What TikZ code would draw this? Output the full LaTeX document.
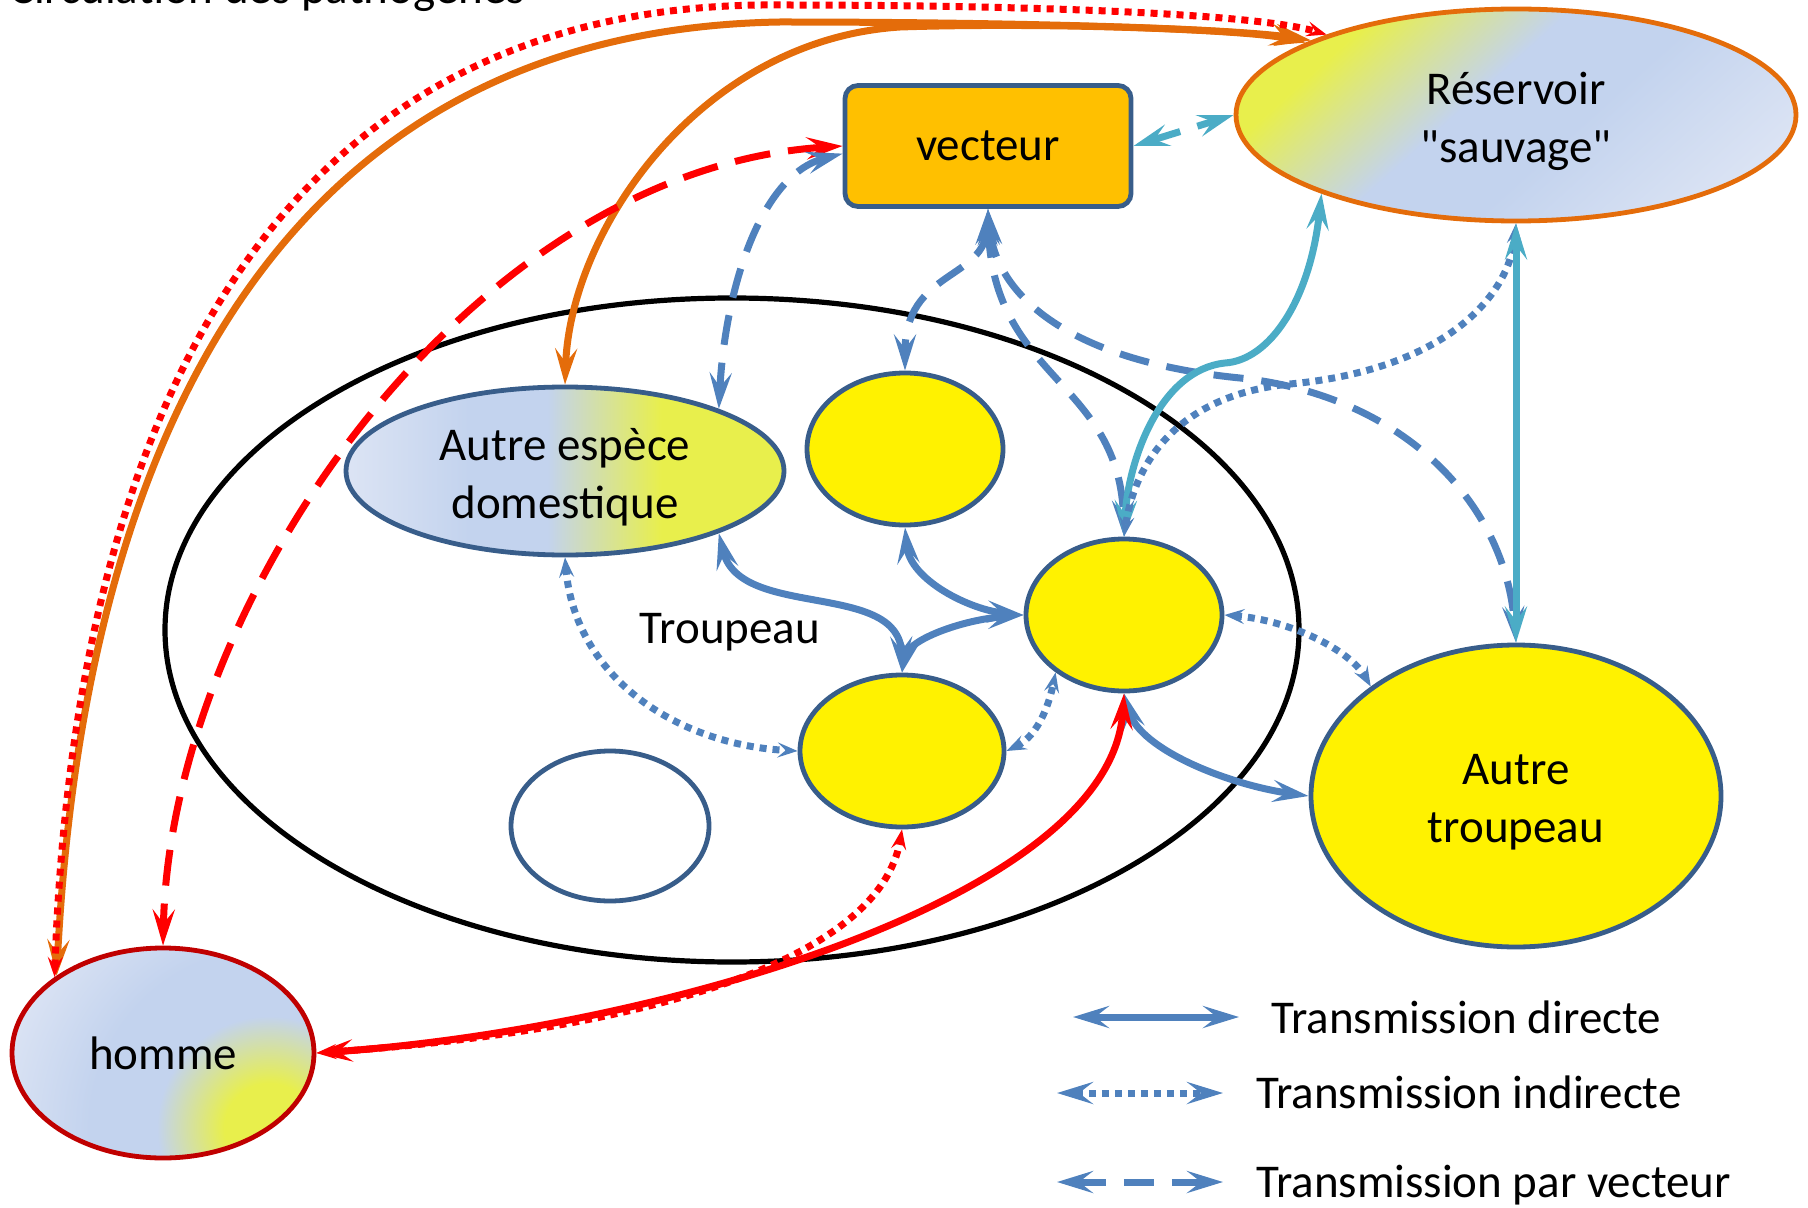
\documentclass[tikz,border=0pt]{standalone}
\usepackage{fontspec}
\setmainfont{Carlito}[Ligatures=TeXOff]
\usetikzlibrary{shapes.geometric,arrows.meta}
\definecolor{lienbleu}{HTML}{4F81BD}
\definecolor{bordbleu}{HTML}{385D8A}
\definecolor{cyanres}{HTML}{4BACC6}
\definecolor{orangeres}{HTML}{E46C0A}
\definecolor{rougehom}{HTML}{C00000}
\definecolor{jaunevec}{HTML}{FFC000}
\definecolor{bleuclair}{HTML}{DCE4F4}
\definecolor{bleufond}{HTML}{C3D3EE}
\definecolor{jaunefond}{HTML}{E8EF4C}
\pgfdeclarehorizontalshading{domfond}{100bp}{color(0bp)=(bleuclair); color(25bp)=(bleuclair); color(39bp)=(bleufond); color(48bp)=(bleufond); color(61bp)=(jaunefond); color(75bp)=(jaunefond); color(100bp)=(jaunefond)}
\pgfdeclarehorizontalshading{resfond}{100bp}{color(0bp)=(jaunefond); color(9bp)=(jaunefond); color(40bp)=(bleufond); color(62bp)=(bleufond); color(100bp)=(bleuclair)}
\pgfdeclareradialshading{homfond}{\pgfpointorigin}{color(0bp)=(jaunefond); color(4bp)=(jaunefond); color(10bp)=(bleufond); color(16bp)=(bleufond); color(25bp)=(bleuclair); color(50bp)=(bleuclair)}
\newcommand{\lignebas}[1]{\raisebox{-3pt}[\height][\depth]{#1}}
\begin{document}
\begin{tikzpicture}[x=0.5pt,y=0.5pt,yscale=-1,
  font=\fontsize{23.5}{29}\selectfont,
  bord/.style={ellipse,draw=bordbleu,line width=2.4pt,inner sep=0pt,align=center},
  anim/.style={bord,fill=yellow},
  lien/.style={line width=3.5pt,{Stealth[length=18pt,width=11pt,inset=7pt]}-{Stealth[length=18pt,width=11pt,inset=7pt]}},
  pointil/.style={line width=3.5pt,dash pattern=on 3.5pt off 3pt,{Stealth[length=10pt,width=7.5pt,inset=4pt]}-{Stealth[length=10pt,width=7.5pt,inset=4pt]}},
  tiret/.style={lien,dash pattern=on 15pt off 9pt},
  tiretlong/.style={lien,dash pattern=on 18pt off 9pt}]
\useasboundingbox (0,0) rectangle (1808,1208);

%Shape: Ellipse (troupeau)
\draw (732,630) node [ellipse,draw=black,line width=2.6pt,minimum width=567pt,minimum height=332pt] (trp) {};
%Shading: reservoir and homme
\begin{scope}
\clip (1516,115) ellipse [x radius=280, y radius=106];
\begin{scope}[shift={(1516,115)},rotate=48,xscale=2.04,yscale=2.25]
\pgflowlevelsynccm
\pgftext{\pgfuseshading{resfond}}
\end{scope}
\end{scope}
\begin{scope}
\clip (163,1053) ellipse [x radius=151, y radius=105];
\shade [shading=homfond] (269,1128) circle (140pt);
\end{scope}
%Shape: Rounded Rectangle
\draw (988,146) node [draw=bordbleu,fill=jaunevec,line width=2.4pt,rounded corners=6.5pt,minimum width=143pt,minimum height=60.5pt] (vec) {vecteur};
%Shape: Ellipse
\draw (1516,115) node [bord,draw=orangeres,minimum width=280pt,minimum height=106pt] (res) {\lignebas{Réservoir}\\\lignebas{"sauvage"}};
%Shape: Ellipse
\draw (565,471) node [bord,shading=domfond,minimum width=219pt,minimum height=84pt] (dom) {\lignebas{Autre espèce}\\\lignebas{domestique}};
%Shape: Ellipse
\draw (905,449) node [anim,minimum width=98pt,minimum height=76pt] (A) {};
\draw (1124,615) node [anim,minimum width=98pt,minimum height=76pt] (C) {};
\draw (902,751) node [anim,minimum width=102pt,minimum height=76pt] (B) {};
\draw (610,826) node [bord,fill=white,minimum width=99pt,minimum height=75pt] (W) {};
%Shape: Ellipse
\draw (1516,796) node [anim,minimum width=205pt,minimum height=151pt] (aut) {\lignebas{Autre}\\\lignebas{troupeau}};
%Shape: Ellipse
\draw (163,1053) node [bord,draw=rougehom,minimum width=151pt,minimum height=105pt] (hom) {homme};

% Text Node
\draw (730,632) node (lbl) {Troupeau};
\draw (2,4) node [anchor=base west] (titre) {Circulation des pathogènes};

%Curve Lines (homme - reservoir)
\draw [lien,orangeres] (hom.144) .. controls (85,425) and (290,30) .. (780,22) .. controls (1000,22) and (1230,28) .. (res.160);
\draw [pointil,red] (hom.145) .. controls (75,400) and (285,0) .. (780,5) .. controls (1000,5) and (1250,12) .. (res.157);
\draw [lien,orangeres] (res.161) .. controls (1250,30) and (1050,22) .. (900,27) .. controls (700,40) and (570,230) .. (dom.north);
%Curve Lines (vecteur)
\draw [tiretlong,red] (vec.west) .. controls (470,170) and (170,600) .. (hom.north);
\draw [tiret,lienbleu] (vec.183) .. controls (760,175) and (725,290) .. (dom.22);
\draw [tiret,lienbleu] (vec.south) .. controls (985,280) and (905,270) .. (A.north);
\draw [tiret,lienbleu] (vec.south) .. controls (992,380) and (1120,380) .. (C.north);
\draw [tiret,lienbleu] (vec.south) .. controls (995,290) and (1060,360) .. (1240,378) .. controls (1400,395) and (1505,500) .. (aut.north);
\draw [tiret,cyanres] (vec.east) -- (res.west);
%Curve Lines (reservoir)
\draw [lien,cyanres] (res.202) .. controls (1310,300) and (1270,360) .. (1225,363) .. controls (1160,370) and (1128,460) .. (C.north);
\draw [pointil,lienbleu] (res.south) .. controls (1510,300) and (1440,370) .. (1290,384) .. controls (1180,395) and (1135,460) .. (C.north);
\draw [lien,cyanres] (res.south) -- (aut.north);
%Curve Lines (troupeau)
\draw [lien,lienbleu] (dom.-22) .. controls (740,620) and (900,580) .. (B.north);
\draw [lien,lienbleu] (A.south) .. controls (910,580) and (970,610) .. (C.west);
\draw [lien,lienbleu] (C.west) .. controls (960,620) and (910,640) .. (B.north);
\draw [pointil,lienbleu] (dom.south) .. controls (575,680) and (680,745) .. (B.west);
\draw [pointil,lienbleu] (B.east) .. controls (1040,735) and (1050,700) .. (C.220);
\draw [pointil,lienbleu] (C.east) .. controls (1290,620) and (1350,650) .. (aut.143);
\draw [lien,lienbleu] (C.south) .. controls (1140,750) and (1230,785) .. (aut.west);
%Curve Lines (homme)
\draw [lien,red] (hom.east) .. controls (650,1030) and (1110,900) .. (C.south);
\draw [pointil,red] (hom.east) .. controls (650,1030) and (880,960) .. (B.south);

%Legend
\coordinate (d1) at (1073,1017); \coordinate (d2) at (1239,1017);
\coordinate (i1) at (1057,1093); \coordinate (i2) at (1223,1093);
\coordinate (v1) at (1057,1182); \coordinate (v2) at (1223,1182);
\draw [lien,lienbleu] (d1) -- (d2);
\draw [lien,lienbleu,dash pattern=on 3.5pt off 3pt] (i1) -- (i2);
\draw [tiret,lienbleu] (v1) -- (v2);
% Text Node
\draw (1264,1033) node [anchor=base west] (tdir) {Transmission directe};
\draw (1249,1108) node [anchor=base west] (tind) {Transmission indirecte};
\draw (1249,1197) node [anchor=base west] (tvec) {Transmission par vecteur};
\end{tikzpicture}
\end{document}
